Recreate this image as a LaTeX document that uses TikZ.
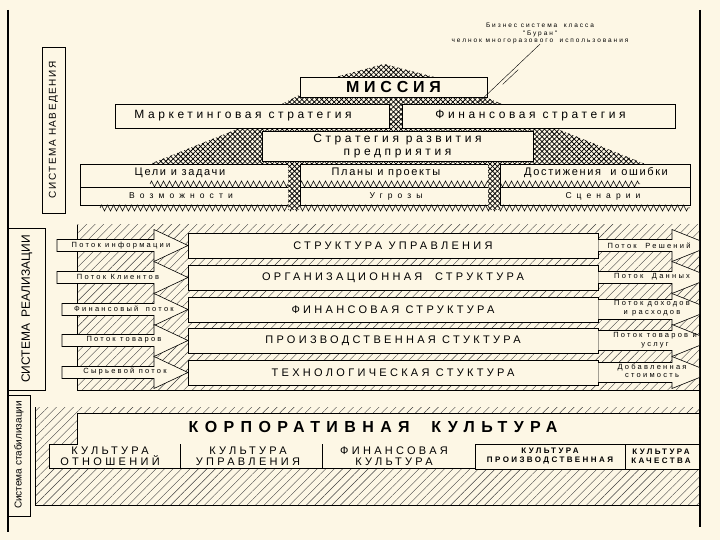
\documentclass[tikz,border=0pt]{standalone}
\usepackage{fontspec}
\setmainfont{Liberation Sans}
\newfontfamily\lsA[LetterSpace=15]{Liberation Sans}
\newfontfamily\lsB[LetterSpace=30]{Liberation Sans}
\newfontfamily\lsC[LetterSpace=40]{Liberation Sans}
\newfontfamily\lsD[LetterSpace=60]{Liberation Sans}
\usepackage{tikz}
\usetikzlibrary{shapes,arrows,positioning,calc,patterns,patterns.meta,decorations.pathmorphing}
\definecolor{fon}{RGB}{253,247,229}
\tikzstyle{box} = [rectangle, draw=black, fill=fon, inner sep=0pt, outer sep=0pt, line width=0.8pt, align=center]
\tikzstyle{cell} = [draw=black, fill=fon, line width=0.8pt]
\tikzstyle{sbox} = [box, minimum width=410pt, minimum height=25pt, font=\lsB\fontsize{11}{12}\selectfont]
\tikzstyle{txt} = [inner sep=0pt, align=center]
\tikzstyle{strat} = [txt, font=\lsB\fontsize{12}{13}\selectfont]
\tikzstyle{tcel} = [txt, font=\lsA\fontsize{11}{12}\selectfont]
\tikzstyle{tvoz} = [txt, font=\lsD\fontsize{8.5}{9}\selectfont]
\tikzstyle{flowtxt} = [txt, font=\lsB\fontsize{7.5}{8.5}\selectfont]
\tikzstyle{cult} = [txt, font=\lsB\fontsize{11}{11}\selectfont]
\tikzstyle{csmall} = [txt, font=\lsB\bfseries\fontsize{8}{9}\selectfont]
\tikzstyle{cross} = [preaction={fill=fon}, pattern={Lines[angle=45,distance=3.5pt,line width=0.75pt]}, postaction={pattern={Lines[angle=-45,distance=3.5pt,line width=0.75pt]}}]
\tikzstyle{hatch} = [preaction={fill=fon}, pattern={Lines[angle=45,distance=6pt,line width=0.4pt]}, pattern color=black!75]
\tikzstyle{saw} = [decorate, decoration={zigzag, segment length=6pt, amplitude=3pt}, line width=0.5pt]
\tikzstyle{flow} = [draw=black, fill=fon, line width=0.6pt]
\tikzstyle{frame} = [line width=2pt]

\begin{document}
\begin{tikzpicture}[x=1pt, y=-1pt, node distance=7pt, >=stealth']

% Фон и рамка
\fill[fon] (0,0) rectangle (720,540);
\draw[frame] (8,10) -- (8,532);
\draw[frame] (700,10) -- (700,527);

% Подписи систем слева
\draw[thin] (42,47) rectangle (65,213);
\node (nav) [txt, rotate=90, font=\lsA\fontsize{10}{10}\selectfont] at (53.5,130) {СИСТЕМА НАВЕДЕНИЯ};
\draw[thin] (8,228) -- (45,228) -- (45,390) -- (8,390);
\node (real) [txt, rotate=90, font=\fontsize{12}{12}\selectfont] at (27,309) {СИСТЕМА\ \ РЕАЛИЗАЦИИ};
\draw[thin] (8,395) -- (30,395) -- (30,516) -- (8,516);
\node (stab) [txt, rotate=90, font=\fontsize{10}{10}\selectfont] at (19,455) {Система стабилизации};

% Пирамида миссии
\fill[cross] (384,64) -- (438,78) -- (502,104) -- (282,104) -- (332,78) -- cycle;
\fill[cross] (389,100) rectangle (402,131);
\fill[cross] (240,128) -- (555,128) -- (645,164) -- (150,164) -- cycle;
\node (missiya) [box, minimum width=187pt, minimum height=20pt, font=\lsB\bfseries\fontsize{16}{16}\selectfont] at (393.5,87) {МИССИЯ};
\node (market) [box, strat, draw, fill=fon, minimum width=274pt, minimum height=24pt] at (252,116) {Маркетинговая стратегия\hspace{18pt}};
\node (finstr) [box, strat, draw, fill=fon, minimum width=273pt, minimum height=24pt] at (538.5,116) {Финансовая стратегия\hspace{16pt}};
\node (razv) [box, strat, draw, fill=fon, minimum width=271pt, minimum height=30pt] at (397.5,146) {Стратегия развития\\предприятия};

% Пояснение
\node (anno) [txt, font=\lsB\fontsize{6.5}{7.5}\selectfont] at (540,33.5) {Бизнес система\quad класса\\"Буран"\\челнок многоразового\quad использования};
\coordinate (mis_pt) at (478,103);
\draw[thin] (anno.south) -- (mis_pt);
\draw[thin] ($(anno.south)!0.4!(mis_pt)+(3,2)$) -- ($(anno.south)!0.65!(mis_pt)+(3,2)$);

% Цели, планы, достижения
\draw[cell] (80,164) rectangle (288,187);
\draw[cell] (300,164) rectangle (488,187);
\draw[cell] (500,164) rectangle (690,187);
\draw[cell] (80,187) rectangle (288,205);
\draw[cell] (300,187) rectangle (488,205);
\draw[cell] (500,187) rectangle (690,205);
\draw[saw] (150,184) -- (640,184);
\draw[saw] (100,208) -- (690,208);
\fill[cross] (288,164) rectangle (300,210);
\fill[cross] (488,164) rectangle (500,210);
\node (celi) [tcel] at (180,173) {Цели и задачи};
\node (plany) [tcel] at (386,173) {Планы и проекты};
\node (dost) [tcel] at (596,173) {Достижения\ \ и ошибки};
\node (vozm) [tvoz] at (181,196) {Возможности};
\node (ugroz) [tvoz] at (396,196) {Угрозы};
\node (scen) [tvoz] at (603,196) {Сценарии};

% Система реализации
\fill[hatch] (77,225) rectangle (699,390);
\draw (77,225) -- (77,390) -- (699,390);
\node (upr) [sbox] at (393,245.5) {СТРУКТУРА УПРАВЛЕНИЯ};
\node (org) [sbox, below=7pt of upr] {ОРГАНИЗАЦИОННАЯ\ \ СТРУКТУРА};
\node (fin) [sbox, below=7pt of org] {ФИНАНСОВАЯ СТРУКТУРА};
\node (proiz) [sbox, below=6pt of fin] {ПРОИЗВОДСТВЕННАЯ СТУКТУРА};
\node (tech) [sbox, below=7pt of proiz] {ТЕХНОЛОГИЧЕСКАЯ СТУКТУРА};

% Входящие потоки
\foreach \n/\l in {upr/131, org/131, fin/126, proiz/126, tech/126}
  \draw[flow] (\n.west) -- ++(-34,-16) -- ++(0,10) -- ++(-\l+34,0) -- ++(0,12) -- ++(\l-34,0) -- ++(0,10) -- cycle;
\node (pinf) [flowtxt] at (121,246) {Поток информации};
\node (pkl) [flowtxt] at (118,277) {Поток Клиентов};
\node (pfin) [flowtxt] at (124,309) {Финансовый\quad поток};
\node (ptov) [flowtxt] at (124,340) {Поток товаров};
\node (psyr) [flowtxt] at (125,371) {Сырьевой поток};

% Исходящие потоки
\begin{scope}
\clip (598,225) rectangle (699,390);
\foreach \n/\h in {upr/6, org/6, fin/10, proiz/10, tech/10}
  \draw[flow] (\n.east) ++(0,-\h) -- ++(74,0) -- ++(0,\h-16) -- ++(40,16) -- ++(-40,16) -- ++(0,\h-16) -- ++(-74,0) -- cycle;
\node (presh) [flowtxt] at (649,246) {Поток\ \ Решений};
\node (pdan) [flowtxt] at (652,277) {Поток\ \ Данных};
\node (pdoh) [flowtxt] at (652,308) {Поток доходов\\и расходов};
\node (ptu) [flowtxt] at (655,340) {Поток товаров и\\услуг};
\node (pdob) [flowtxt] at (652,371) {Добавленная\\стоимость};
\end{scope}

% Корпоративная культура
\fill[hatch] (35,407) rectangle (699,505);
\draw (35,407) -- (35,505) -- (699,505);
\fill[fon] (77,413) rectangle (699,444);
\fill[fon] (49,444) rectangle (475,468);
\draw[line width=0.8pt] (699,413) -- (77,413) -- (77,444) -- (49,444) -- (49,468) -- (475,468);
\draw[line width=0.8pt] (180,444) -- (180,468);
\draw[line width=0.8pt] (322,444) -- (322,468);
\draw[cell] (475,444) rectangle (625,469);
\draw[cell] (625,444) rectangle (699,469);
\node (korp) [txt, font=\lsC\bfseries\fontsize{16}{16}\selectfont] at (373,427) {КОРПОРАТИВНАЯ\ \ КУЛЬТУРА};
\node (kotn) [cult] at (110,456) {КУЛЬТУРА\\ОТНОШЕНИЙ};
\node (kupr) [cult] at (248,456) {КУЛЬТУРА\\УПРАВЛЕНИЯ};
\node (kfin) [cult] at (394,456) {ФИНАНСОВАЯ\\КУЛЬТУРА};
\node (kpro) [csmall] at (550,456.5) {КУЛЬТУРА\\ПРОИЗВОДСТВЕННАЯ};
\begin{scope}
\clip (625,444) rectangle (699,469);
\node (kkach) [csmall] at (661,456.5) {КУЛЬТУРА\\КАЧЕСТВА};
\end{scope}

\end{tikzpicture}
\end{document}
